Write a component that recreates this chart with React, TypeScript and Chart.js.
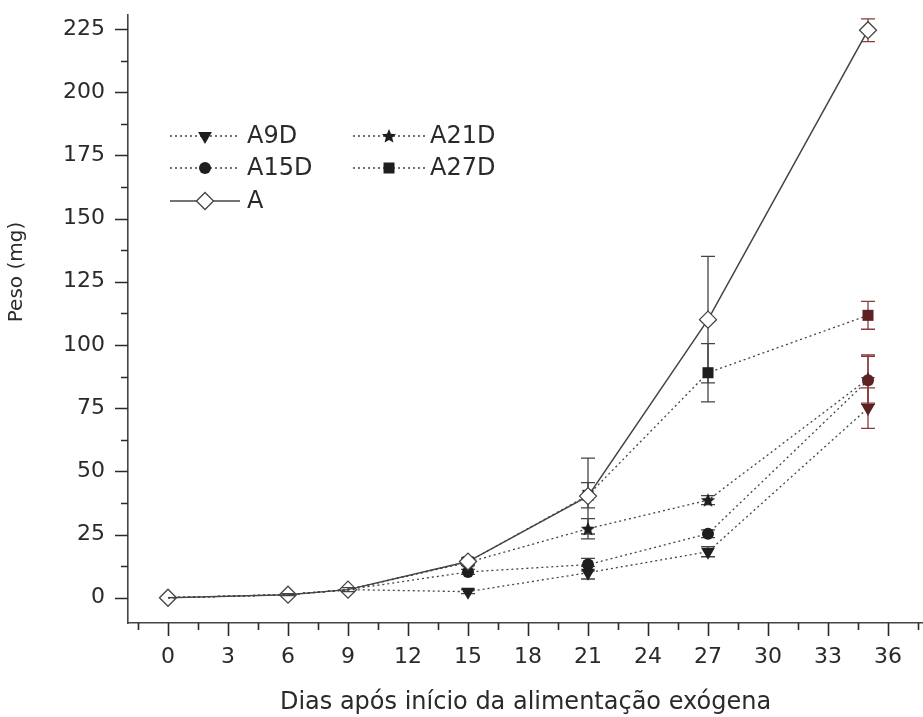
import React, { useEffect, useRef } from "react";
import { Chart, registerables } from "chart.js";
Chart.register(...registerables);

// ---- data ----
const days = [0, 6, 9, 15, 21, 27, 35];
const seriesLabels = ["A9D", "A15D", "A21D", "A27D", "A"];
const a9d = [0, 1.2, 3.2, 2.4, 9.9, 18.2, 75];
const a15d = [0, 1.2, 3.2, 10.2, 13.1, 25.3, 86];
const a21d = [0, 1.2, 3.2, 14, 27.3, 38.6, 86.5];
const a27d = [0, 1.2, 3.2, 14.2, 40.5, 89, 111.7];
const aCtrl = [0, 1.2, 3.2, 14.3, 40.2, 110, 224.5];
const a9dErr = [0, 0, 0, 0.8, 2.5, 2, 8];
const a15dErr = [0, 0, 0, 1, 2.5, 1.5, 9.5];
const a21dErr = [0, 0, 0, 1, 4, 1.8, 9.5];
const a27dErr = [0, 0, 0, 1.5, 5, 11.5, 5.5];
const aErr = [0, 0.4, 0.8, 1.5, 15, 25, 4.5];
const xMajorTicks = [0, 3, 6, 9, 12, 15, 18, 21, 24, 27, 30, 33, 36];
const yMajorTicks = [0, 25, 50, 75, 100, 125, 150, 175, 200, 225];
const xTitle = "Dias após início da alimentação exógena";
const yTitle = "Peso (mg)";

const FONT = "DejaVu Sans";
const INK = "#2a2a2a";

function minorBetween(majors: number[], before: boolean, after: boolean) {
  const out: number[] = [];
  const step = majors[1] - majors[0];
  if (before) out.push(majors[0] - step / 2);
  for (let i = 0; i < majors.length; i++) {
    out.push(majors[i]);
    if (i < majors.length - 1) out.push((majors[i] + majors[i + 1]) / 2);
  }
  if (after) out.push(majors[majors.length - 1] + step / 2);
  return out;
}
const xTickValues = minorBetween(xMajorTicks, true, true);
const yTickValues = minorBetween(yMajorTicks, false, false);

function makeStar(size: number, fill: string) {
  const c = document.createElement("canvas");
  c.width = size;
  c.height = size;
  const g = c.getContext("2d")!;
  const cx = size / 2, cy = size / 2 + 0.5, R = size / 2 - 0.5, r = R * 0.45;
  g.beginPath();
  for (let i = 0; i < 10; i++) {
    const ang = -Math.PI / 2 + (i * Math.PI) / 5;
    const rad = i % 2 === 0 ? R : r;
    g.lineTo(cx + rad * Math.cos(ang), cy + rad * Math.sin(ang));
  }
  g.closePath();
  g.fillStyle = fill;
  g.fill();
  return c;
}

export default function App() {
  const ref = useRef<HTMLCanvasElement | null>(null);
  useEffect(() => {
    document.body.style.margin = "0";
    const canvas = ref.current!;
    const star = makeStar(16, "#1e1e1e");
    const dark = "#1e1e1e";
    const red = "#5c2222";
    const fills = [dark, dark, dark, dark, dark, dark, red];
    const hideEarly = (r: number) => days.map((_, i) => (i < 3 ? 0 : r));
    const mk = (vals: number[]) => days.map((d, i) => ({ x: d, y: vals[i] }));
    const dotted = {
      borderColor: "#444",
      borderWidth: 1.3,
      borderDash: [2, 3],
      pointBorderColor: fills,
      pointBackgroundColor: fills,
      pointBorderWidth: 0,
      tension: 0,
      fill: false,
    };
    const datasets: any[] = [
      { ...dotted, label: seriesLabels[0], data: mk(a9d), err: a9dErr, pointStyle: "triangle", pointRotation: 180, pointRadius: hideEarly(8), order: 4 },
      { ...dotted, label: seriesLabels[1], data: mk(a15d), err: a15dErr, pointStyle: "circle", pointRadius: hideEarly(6), order: 2 },
      { ...dotted, label: seriesLabels[2], data: mk(a21d), err: a21dErr, pointStyle: star, pointRadius: hideEarly(6), order: 3 },
      { ...dotted, label: seriesLabels[3], data: mk(a27d), err: a27dErr, pointStyle: "rect", pointRadius: hideEarly(7.8), order: 1 },
      {
        label: seriesLabels[4], data: mk(aCtrl), err: aErr,
        borderColor: "#444", borderWidth: 1.5, tension: 0, fill: false,
        pointStyle: "rectRot", pointRadius: 8.5, pointBorderWidth: 1.3, pointBorderColor: "#444",
        pointBackgroundColor: days.map((_, i) => (i < 3 ? "rgba(255,255,255,0)" : "#ffffff")),
        order: 0,
      },
    ];

    const errorBars = {
      id: "errorBars",
      beforeDatasetsDraw(chart: any) {
        const ctx = chart.ctx;
        const ys = chart.scales.y;
        ctx.save();
        chart.data.datasets.forEach((ds: any, di: number) => {
          const meta = chart.getDatasetMeta(di);
          ds.err.forEach((e: number, i: number) => {
            if (!e) return;
            const p = meta.data[i];
            const v = ds.data[i].y;
            const y1 = ys.getPixelForValue(v + e);
            const y2 = ys.getPixelForValue(v - e);
            ctx.strokeStyle = i === 6 ? "#8a3b3b" : "#444";
            ctx.lineWidth = 1.3;
            ctx.beginPath();
            ctx.moveTo(p.x, y1);
            ctx.lineTo(p.x, y2);
            ctx.moveTo(p.x - 7, y1);
            ctx.lineTo(p.x + 7, y1);
            ctx.moveTo(p.x - 7, y2);
            ctx.lineTo(p.x + 7, y2);
            ctx.stroke();
          });
        });
        ctx.restore();
      },
    };

    const tickMarks = {
      id: "tickMarks",
      afterDraw(chart: any) {
        const ctx = chart.ctx;
        const { x: xs, y: ys } = chart.scales;
        const area = chart.chartArea;
        ctx.save();
        ctx.strokeStyle = INK;
        ctx.lineWidth = 1.6;
        ctx.beginPath();
        xTickValues.forEach((v) => {
          const px = Math.round(xs.getPixelForValue(v)) + 0.5;
          const len = xMajorTicks.includes(v) ? 13 : 7;
          ctx.moveTo(px, area.bottom);
          ctx.lineTo(px, area.bottom + len);
        });
        yTickValues.forEach((v) => {
          const py = Math.round(ys.getPixelForValue(v)) + 0.5;
          const len = yMajorTicks.includes(v) ? 13 : 7;
          ctx.moveTo(area.left - len, py);
          ctx.lineTo(area.left, py);
        });
        ctx.stroke();
        ctx.restore();
      },
    };

    const legendAndTitle = {
      id: "legendAndTitle",
      afterDraw(chart: any) {
        const ctx = chart.ctx;
        const area = chart.chartArea;
        ctx.save();
        // y title
        ctx.translate(17, 272);
        ctx.rotate(-Math.PI / 2);
        ctx.font = `20px "${FONT}"`;
        ctx.fillStyle = INK;
        ctx.textAlign = "center";
        ctx.textBaseline = "middle";
        ctx.fillText(yTitle, 0, 0);
        ctx.restore();

        const L = area.left, T = area.top;
        const entries = [
          { ds: 0, col: 0, row: 0 },
          { ds: 2, col: 1, row: 0 },
          { ds: 1, col: 0, row: 1 },
          { ds: 3, col: 1, row: 1 },
          { ds: 4, col: 0, row: 2 },
        ];
        const cols = [
          { x0: L + 42, x1: L + 112, m: L + 77, t: L + 119 },
          { x0: L + 225, x1: L + 297, m: L + 261, t: L + 302 },
        ];
        const rows = [T + 121, T + 153, T + 186];
        entries.forEach((en) => {
          const ds = chart.data.datasets[en.ds];
          const c = cols[en.col];
          const y = rows[en.row];
          ctx.save();
          ctx.strokeStyle = "#444";
          ctx.lineWidth = ds.borderDash ? 1.3 : 1.5;
          ctx.setLineDash(ds.borderDash || []);
          ctx.beginPath();
          ctx.moveTo(c.x0, y);
          ctx.lineTo(c.x1, y);
          ctx.stroke();
          ctx.setLineDash([]);
          ctx.fillStyle = "#1e1e1e";
          ctx.beginPath();
          if (en.ds === 0) {
            const r = 8;
            ctx.moveTo(c.m, y + r);
            ctx.lineTo(c.m - r * 0.866, y - r / 2);
            ctx.lineTo(c.m + r * 0.866, y - r / 2);
            ctx.closePath();
            ctx.fill();
          } else if (en.ds === 1) {
            ctx.arc(c.m, y, 6, 0, Math.PI * 2);
            ctx.fill();
          } else if (en.ds === 2) {
            ctx.drawImage(star, c.m - star.width / 2, y - star.height / 2);
          } else if (en.ds === 3) {
            ctx.rect(c.m - 5.5, y - 5.5, 11, 11);
            ctx.fill();
          } else {
            const r = 8.5;
            ctx.moveTo(c.m - r, y);
            ctx.lineTo(c.m, y - r);
            ctx.lineTo(c.m + r, y);
            ctx.lineTo(c.m, y + r);
            ctx.closePath();
            ctx.fillStyle = "#fff";
            ctx.fill();
            ctx.lineWidth = 1.3;
            ctx.stroke();
          }
          ctx.fillStyle = INK;
          ctx.font = `24px "${FONT}"`;
          ctx.textAlign = "left";
          ctx.textBaseline = "middle";
          ctx.fillText(ds.label, c.t, y + 1);
          ctx.restore();
        });
      },
    };

    const chart = new Chart(canvas, {
      type: "line",
      data: { datasets },
      plugins: [errorBars, tickMarks, legendAndTitle],
      options: {
        animation: false,
        responsive: false,
        layout: { autoPadding: false, padding: { top: 15, left: 0, right: 0, bottom: 0 } },
        plugins: { legend: { display: false }, tooltip: { enabled: false } },
        scales: {
          x: {
            type: "linear",
            min: -2,
            max: 37.75,
            afterBuildTicks: (s: any) => {
              s.ticks = xTickValues.map((v) => ({ value: v }));
            },
            afterFit: (s: any) => {
              s.height = 94;
              s.paddingLeft = 0;
              s.paddingRight = 0;
            },
            ticks: {
              autoSkip: false,
              maxRotation: 0,
              padding: 8,
              color: INK,
              font: { family: FONT, size: 22 },
              callback: (v: any) => (xMajorTicks.includes(v) ? String(v) : ""),
            },
            grid: { drawOnChartArea: false, drawTicks: true, tickLength: 13, color: "rgba(0,0,0,0)", tickColor: "rgba(0,0,0,0)" },
            border: { display: true, color: "#444", width: 1.6 },
            title: { display: true, text: xTitle, color: INK, font: { family: FONT, size: 24 }, padding: { top: 0, bottom: 0 } },
          },
          y: {
            type: "linear",
            min: -10,
            max: 230.5,
            afterBuildTicks: (s: any) => {
              s.ticks = yTickValues.map((v) => ({ value: v }));
            },
            afterFit: (s: any) => {
              s.width = 128;
              s.paddingTop = 0;
              s.paddingBottom = 0;
            },
            ticks: {
              autoSkip: false,
              padding: 10,
              color: INK,
              font: { family: FONT, size: 22 },
              callback: (v: any) => (yMajorTicks.includes(v) ? String(v) : ""),
            },
            grid: { drawOnChartArea: false, drawTicks: true, tickLength: 13, color: "rgba(0,0,0,0)", tickColor: "rgba(0,0,0,0)" },
            border: { display: true, color: "#444", width: 1.6 },
          },
        },
      } as any,
    });
    return () => chart.destroy();
  }, []);
  return (
    <div style={{ width: 923, height: 717, background: "#fff" }}>
      <canvas ref={ref} width={923} height={717} style={{ display: "block" }} />
    </div>
  );
}
